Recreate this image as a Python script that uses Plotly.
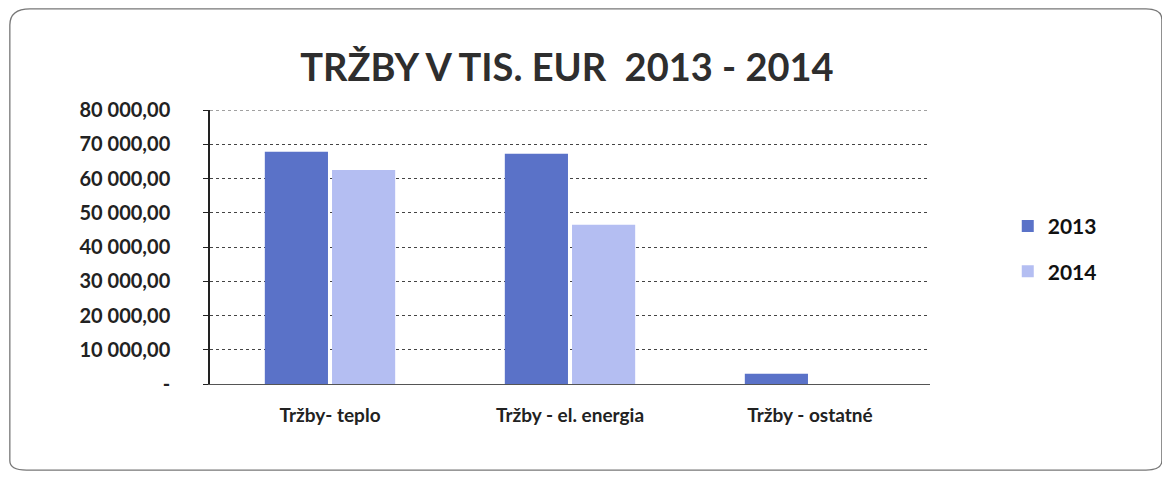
import plotly.graph_objects as go

# Sales in thousands EUR
categories = ["Tržby- teplo", "Tržby - el. energia", "Tržby - ostatné"]
sales_2013 = [67800, 67200, 3000]
sales_2014 = [62500, 46500, 0]
y_ticks = [0, 10000, 20000, 30000, 40000, 50000, 60000, 70000, 80000]
y_tick_labels = ["-", "10 000,00", "20 000,00", "30 000,00", "40 000,00",
                 "50 000,00", "60 000,00", "70 000,00", "80 000,00"]

fig = go.Figure()
fig.add_trace(go.Bar(x=categories, y=sales_2013, name="2013", legendgroup="y2013",
                     marker=dict(color="#5a72c8", line=dict(width=0))))
fig.add_trace(go.Bar(x=categories, y=sales_2014, name="2014", legendgroup="y2014",
                     marker=dict(color="#b4bef2", line=dict(width=0))))

# page body has an 8px margin, so the figure is a bit smaller than the window
fig.update_layout(
    width=1162, height=473,
    paper_bgcolor="white", plot_bgcolor="white",
    margin=dict(l=202, r=240, t=102, b=97),
    barmode="group", bargap=0.44, bargroupgap=0.06,
    font=dict(family="Lato, Open Sans, sans-serif", color="#222222"),
    title=dict(text="<b>TRŽBY V TIS. EUR  2013 - 2014</b>",
               x=0.481, xanchor="center", y=0.873, yanchor="middle",
               font=dict(size=38, color="#2e2e2e")),
    legend=dict(x=1.108, y=0.493, xanchor="left", yanchor="middle",
                font=dict(size=21, color="#111111", weight="bold"),
                tracegroupgap=15, bgcolor="rgba(0,0,0,0)"),
    showlegend=True,
    shapes=[
        # top gridline (range edge)
        dict(type="line", xref="paper", yref="y", x0=0, x1=1,
             y0=y_ticks[-1], y1=y_ticks[-1],
             line=dict(color="#444444", width=1, dash="dot")),
        # rounded chart frame
        dict(type="path", xref="paper", yref="paper",
             path="M -0.278 1.31 Q -0.278 1.369 -0.25 1.369 L 1.3 1.369 "
                  "Q 1.322 1.369 1.322 1.33 L 1.322 -0.28 "
                  "Q 1.322 -0.314 1.3 -0.314 L -0.255 -0.314 "
                  "Q -0.278 -0.314 -0.278 -0.28 Z",
             line=dict(color="#777777", width=1.3), layer="below"),
    ],
)

fig.update_yaxes(range=[0, 80000], tickvals=y_ticks, ticktext=y_tick_labels,
                 showgrid=True, gridcolor="#444444", griddash="dot", gridwidth=1,
                 showline=True, linecolor="#222222", linewidth=1.5,
                 ticks="outside", ticklen=5, tickcolor="#222222",
                 tickfont=dict(size=20, color="#222222", weight="bold"),
                 ticklabelstandoff=29, zeroline=False)
fig.update_xaxes(showline=True, linecolor="#555555", linewidth=1,
                 tickfont=dict(size=19, color="#222222", weight="bold"),
                 ticks="", ticklabelstandoff=14)

fig.write_html("out.html")
